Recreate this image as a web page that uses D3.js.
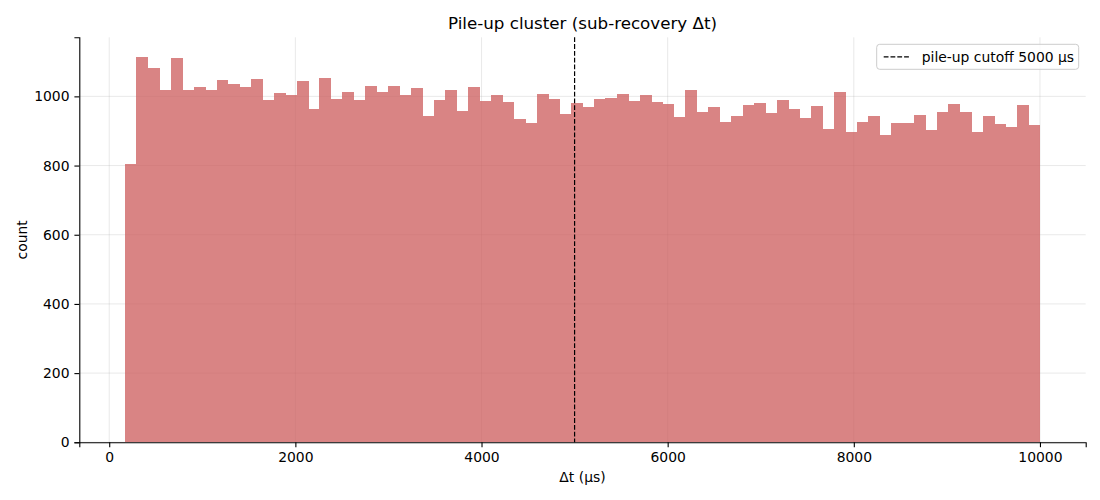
<!DOCTYPE html>
<html>
<head>
<meta charset="utf-8">
<script src="https://cdn.jsdelivr.net/npm/d3@7"></script>
<style>
  body { margin: 0; background: #fff; }
  text { font-family: "DejaVu Sans", sans-serif; }
</style>
</head>
<body>
<div id="chart"></div>
<script>
// histogram of pile-up delta t, 80 bins between binStart and binEnd
var binStart = 170;
var binEnd = 10000;
var counts = [
  805, 1115, 1083, 1017, 1112, 1019, 1028, 1017, 1048, 1036,
  1028, 1051, 990, 1011, 1005, 1045, 964, 1054, 993, 1014,
  990, 1031, 1014, 1031, 1005, 1025, 944, 990, 1019, 959,
  1028, 987, 1005, 985, 935, 924, 1008, 993, 950, 982,
  970, 993, 996, 1008, 987, 1005, 985, 979, 941, 1019,
  956, 970, 927, 944, 976, 982, 953, 990, 964, 938,
  973, 906, 1014, 898, 927, 944, 889, 924, 924, 947,
  904, 956, 979, 956, 898, 944, 921, 912, 976, 918
];
var cutoff = 5000;
var xTicks = [0, 2000, 4000, 6000, 8000, 10000];
var yTicks = [0, 200, 400, 600, 800, 1000];

var svgWidth = 1100;
var svgHeight = 500;
var margin = { top: 37.3, right: 14.3, bottom: 57.7, left: 79.3 };
var width = svgWidth - margin.left - margin.right;
var height = svgHeight - margin.top - margin.bottom;

var binWidth = (binEnd - binStart) / counts.length;
var bins = counts.map(function(c, i) {
  return { x0: binStart + i * binWidth, x1: binStart + (i + 1) * binWidth, count: c };
});

var svg = d3.select("#chart")
  .append("svg")
  .attr("width", svgWidth)
  .attr("height", svgHeight);

var chartGroup = svg.append("g")
  .attr("transform", `translate(${margin.left}, ${margin.top})`);

// matplotlib style 5% margins on x
var pad = (binEnd - binStart) * 0.05;
var xScale = d3.scaleLinear()
  .domain([binStart - pad, binEnd + pad])
  .range([0, width]);

var yScale = d3.scaleLinear()
  .domain([0, d3.max(counts) * 1.05])
  .range([height, 0]);

// grid
chartGroup.append("g")
  .selectAll("line")
  .data(xTicks)
  .enter()
  .append("line")
  .attr("x1", d => xScale(d))
  .attr("x2", d => xScale(d))
  .attr("y1", 0)
  .attr("y2", height)
  .attr("stroke", "#b0b0b0")
  .attr("stroke-opacity", 0.35)
  .attr("stroke-width", 0.8);

chartGroup.append("g")
  .selectAll("line")
  .data(yTicks)
  .enter()
  .append("line")
  .attr("x1", 0)
  .attr("x2", width)
  .attr("y1", d => yScale(d))
  .attr("y2", d => yScale(d))
  .attr("stroke", "#b0b0b0")
  .attr("stroke-opacity", 0.35)
  .attr("stroke-width", 0.8);

// bars - opacity on the group so neighbouring bars don't show seams
chartGroup.append("g")
  .attr("opacity", 0.75)
  .selectAll("rect")
  .data(bins)
  .enter()
  .append("rect")
  .attr("x", d => xScale(d.x0))
  .attr("y", d => yScale(d.count))
  .attr("width", d => xScale(d.x1) - xScale(d.x0) + 0.5)
  .attr("height", d => yScale(0) - yScale(d.count))
  .attr("fill", "indianred")
  .attr("shape-rendering", "crispEdges");

// cutoff line
chartGroup.append("line")
  .attr("x1", xScale(cutoff))
  .attr("x2", xScale(cutoff))
  .attr("y1", 0)
  .attr("y2", height)
  .attr("stroke", "black")
  .attr("stroke-width", 1.2)
  .attr("stroke-dasharray", "4.8,2");

// axes
var bottomAxis = d3.axisBottom(xScale)
  .tickValues(xTicks)
  .tickFormat(d3.format("d"))
  .tickSizeOuter(0)
  .tickSize(4.9)
  .tickPadding(4.9);
var leftAxis = d3.axisLeft(yScale)
  .tickValues(yTicks)
  .tickFormat(d3.format("d"))
  .tickSizeOuter(0)
  .tickSize(4.9)
  .tickPadding(4.9);

var xAxisG = chartGroup.append("g")
  .attr("transform", `translate(0, ${height})`)
  .call(bottomAxis);
var yAxisG = chartGroup.append("g")
  .call(leftAxis);

[xAxisG, yAxisG].forEach(function(g) {
  g.selectAll("text")
    .attr("font-family", "DejaVu Sans, sans-serif")
    .attr("font-size", "13.9px")
    .attr("fill", "black");
  g.select(".domain").attr("stroke", "black").attr("stroke-width", 1.1);
  g.selectAll(".tick line").attr("stroke", "black").attr("stroke-width", 1.1);
});

// title and labels
chartGroup.append("text")
  .attr("x", width / 2)
  .attr("y", -8.3)
  .attr("text-anchor", "middle")
  .attr("font-size", "16.7px")
  .text("Pile-up cluster (sub-recovery \u0394t)");

chartGroup.append("text")
  .attr("x", width / 2)
  .attr("y", height + 40)
  .attr("text-anchor", "middle")
  .attr("font-size", "13.9px")
  .text("\u0394t (\u00b5s)");

chartGroup.append("text")
  .attr("transform", "rotate(-90)")
  .attr("x", -height / 2)
  .attr("y", -52)
  .attr("text-anchor", "middle")
  .attr("font-size", "13.9px")
  .text("count");

// legend
var legend = chartGroup.append("g")
  .attr("transform", `translate(${width - 209}, 7)`);
legend.append("rect")
  .attr("x", 0)
  .attr("y", 0)
  .attr("width", 202)
  .attr("height", 25)
  .attr("rx", 3)
  .attr("fill", "white")
  .attr("fill-opacity", 0.8)
  .attr("stroke", "#cccccc")
  .attr("stroke-width", 1);
legend.append("line")
  .attr("x1", 7)
  .attr("x2", 34)
  .attr("y1", 12.5)
  .attr("y2", 12.5)
  .attr("stroke", "black")
  .attr("stroke-width", 1.2)
  .attr("stroke-dasharray", "4.8,2");
legend.append("text")
  .attr("x", 45)
  .attr("y", 17.3)
  .attr("font-size", "13.9px")
  .text("pile-up cutoff " + cutoff + " \u00b5s");
</script>
</body>
</html>
